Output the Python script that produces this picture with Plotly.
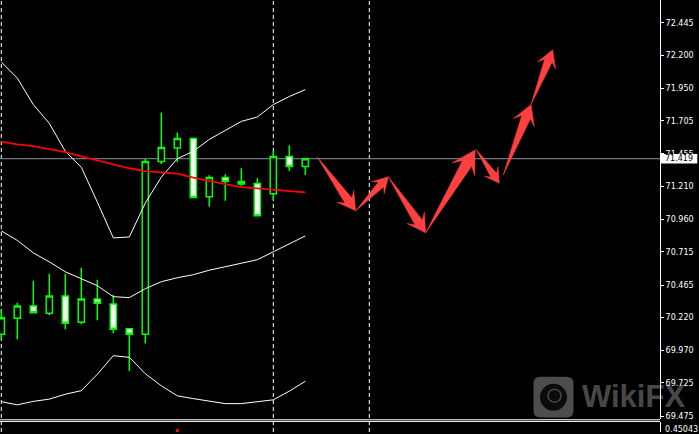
import math
import plotly.graph_objects as go

# ---------------- data ----------------
bars = list(range(20))
opens = [70.094, 70.214, 70.307, 70.252, 70.383, 70.184, 70.360, 70.322, 70.134, 70.094,
         71.398, 71.500, 71.571, 71.131, 71.277, 71.247, 71.232, 71.154, 71.435, 71.360]
highs = [70.280, 70.332, 70.498, 70.550, 70.550, 70.595, 70.505, 70.390, 70.134, 71.417,
         71.768, 71.618, 71.580, 71.295, 71.302, 71.347, 71.272, 71.477, 71.520, 71.420]
lows = [70.060, 70.056, 70.255, 70.237, 70.131, 70.169, 70.199, 70.101, 69.816, 70.024,
        71.380, 71.395, 71.127, 71.056, 71.101, 71.214, 70.984, 71.107, 71.327, 71.297]
closes = [70.217, 70.307, 70.255, 70.383, 70.177, 70.360, 70.327, 70.131, 70.094, 71.398,
          71.503, 71.571, 71.127, 71.277, 71.247, 71.229, 70.989, 71.435, 71.360, 71.419]

bb_upper = [72.150, 72.028, 71.828, 71.686, 71.475, 71.355, 71.092, 70.821, 70.828, 71.084,
            71.280, 71.419, 71.475, 71.565, 71.633, 71.701, 71.734, 71.828, 71.889, 71.941]
bb_middle = [70.874, 70.802, 70.708, 70.640, 70.565, 70.513, 70.460, 70.377, 70.370, 70.437,
             70.490, 70.520, 70.543, 70.577, 70.603, 70.625, 70.656, 70.716, 70.776, 70.836]
bb_lower = [69.584, 69.560, 69.586, 69.603, 69.640, 69.667, 69.791, 69.931, 69.919, 69.795,
            69.704, 69.628, 69.607, 69.588, 69.569, 69.569, 69.584, 69.598, 69.663, 69.738]
ma_red = [71.548, 71.528, 71.515, 71.494, 71.468, 71.437, 71.407, 71.377, 71.347, 71.325,
          71.317, 71.307, 71.276, 71.250, 71.227, 71.204, 71.193, 71.184, 71.174, 71.165]

# forecast arrows: (bar_from, price_from, bar_to, price_to)
arrows = [
    (19.75, 71.432, 22.15, 71.026),
    (22.15, 71.026, 24.19, 71.282),
    (24.19, 71.282, 26.525, 70.859),
    (26.525, 70.859, 29.61, 71.485),
    (29.67, 71.490, 31.125, 71.234),
    (31.375, 71.297, 33.11, 71.828),
    (33.11, 71.828, 34.46, 72.242),
]

separators = [0, 17, 23]
last_price = 71.419
sub_bar = [11]
sub_value = [0.15]
sub_label = "0.45043"

tick_vals = [72.445, 72.200, 71.950, 71.705, 71.455, 71.210, 70.960, 70.715,
             70.465, 70.220, 69.970, 69.725, 69.475]
tick_text = ["%.3f" % v for v in tick_vals]

# ---------------- layout geometry ----------------
W, H = 699, 434
PLOT_W = 660
MAIN_H = 421
x_range = [-0.081, 41.169]
y_range = [69.4525, 72.618]
sx = PLOT_W / (x_range[1] - x_range[0])
sy = MAIN_H / (y_range[1] - y_range[0])

GREEN = "#00ff00"
ARROW = "#ff4040"
FONT = "DejaVu Sans"

fig = go.Figure()

fig.add_trace(go.Candlestick(
    x=bars, open=opens, high=highs, low=lows, close=closes,
    increasing=dict(line=dict(color=GREEN, width=1.5), fillcolor="black"),
    decreasing=dict(line=dict(color=GREEN, width=1.5), fillcolor="white"),
    whiskerwidth=0, showlegend=False, hoverinfo="skip"))

for series in (bb_upper, bb_middle, bb_lower):
    fig.add_trace(go.Scatter(x=bars, y=series, mode="lines",
                             line=dict(color="white", width=1), showlegend=False,
                             hoverinfo="skip"))
fig.add_trace(go.Scatter(x=bars, y=ma_red, mode="lines",
                         line=dict(color="#ff0000", width=1.8), showlegend=False,
                         hoverinfo="skip"))


def arrow_polygon(x0, y0, x1, y1):
    ax, ay = x0 * sx, y0 * sy
    bx, by = x1 * sx, y1 * sy
    dx, dy = bx - ax, by - ay
    L = math.hypot(dx, dy)
    ux, uy = dx / L, dy / L
    nx, ny = -uy, ux
    head_len = 8 + 0.15 * L
    head_w = head_len * 1.15
    shaft_w = head_w * 0.42
    neck = head_len * 0.7
    pts = [
        (ax, ay),
        (bx - ux * neck + nx * shaft_w / 2, by - uy * neck + ny * shaft_w / 2),
        (bx - ux * head_len + nx * head_w / 2, by - uy * head_len + ny * head_w / 2),
        (bx, by),
        (bx - ux * head_len - nx * head_w / 2, by - uy * head_len - ny * head_w / 2),
        (bx - ux * neck - nx * shaft_w / 2, by - uy * neck - ny * shaft_w / 2),
        (ax, ay),
    ]
    return [p[0] / sx for p in pts], [p[1] / sy for p in pts]


for a in arrows:
    px, py = arrow_polygon(*a)
    fig.add_trace(go.Scatter(x=px, y=py, mode="lines", fill="toself",
                             fillcolor=ARROW, line=dict(color=ARROW, width=0.5),
                             showlegend=False, hoverinfo="skip"))

fig.add_trace(go.Scatter(x=sub_bar, y=sub_value, yaxis="y2", mode="markers",
                         marker=dict(symbol="square", size=3, color="#ff0000",
                                     line=dict(width=0)),
                         showlegend=False, hoverinfo="skip"))

shapes = []
for s in separators:
    shapes.append(dict(type="line", xref="x", yref="paper", x0=s, x1=s, y0=0, y1=1,
                       line=dict(color="white", width=1, dash="4px,3px"), layer="below"))
shapes.append(dict(type="line", xref="paper", yref="y", x0=0, x1=1, y0=last_price,
                   y1=last_price, line=dict(color="#8a94a0", width=1), layer="below"))
for py_px in (421.7, 423.4):
    yy = (H - py_px) / H
    shapes.append(dict(type="line", xref="paper", yref="paper", x0=0, x1=1, y0=yy, y1=yy,
                       line=dict(color="white", width=1)))


def px_to_paper(x, y):
    return x / PLOT_W, (H - y) / H


# watermark logo (rounded square)
lx0, ly0, lx1, ly1, r = 533.5, 378.5, 573.5, 419.5, 7
path = ""
seq = [
    ("M", lx0 + r, ly0), ("L", lx1 - r, ly0), ("Q", lx1, ly0, lx1, ly0 + r),
    ("L", lx1, ly1 - r), ("Q", lx1, ly1, lx1 - r, ly1), ("L", lx0 + r, ly1),
    ("Q", lx0, ly1, lx0, ly1 - r), ("L", lx0, ly0 + r), ("Q", lx0, ly0, lx0 + r, ly0),
]
for cmd in seq:
    if cmd[0] in ("M", "L"):
        a, b = px_to_paper(cmd[1], cmd[2])
        path += "%s%.5f,%.5f " % (cmd[0], a, b)
    else:
        a, b = px_to_paper(cmd[1], cmd[2])
        c, d = px_to_paper(cmd[3], cmd[4])
        path += "Q%.5f,%.5f %.5f,%.5f " % (a, b, c, d)
path += "Z"
shapes.append(dict(type="path", xref="paper", yref="paper", path=path,
                   fillcolor="rgba(255,255,255,0.30)", line=dict(width=0), layer="above"))
cx0, cy0 = px_to_paper(540, 385.5)
cx1, cy1 = px_to_paper(567, 412.5)
shapes.append(dict(type="circle", xref="paper", yref="paper", x0=cx0, x1=cx1, y0=cy1, y1=cy0,
                   fillcolor="rgba(0,0,0,0.85)", line=dict(width=0), layer="above"))
ex0, ey0 = px_to_paper(548, 391)
ex1, ey1 = px_to_paper(561, 404)
shapes.append(dict(type="circle", xref="paper", yref="paper", x0=ex0, x1=ex1, y0=ey1, y1=ey0,
                   fillcolor="rgba(0,0,0,0)", line=dict(color="rgba(255,255,255,0.25)", width=1.5),
                   layer="above"))

# current price label box
shapes.append(dict(type="rect", xref="paper", yref="y", x0=1 + 0.7 / PLOT_W,
                   x1=1 + 37.3 / PLOT_W, y0=last_price - 4.7 / sy, y1=last_price + 4.7 / sy,
                   fillcolor="white", line=dict(width=0), layer="above"))

annotations = [
    dict(x=1 + 19 / PLOT_W, y=last_price, xref="paper", yref="y", text="%.3f" % last_price,
         showarrow=False, font=dict(family=FONT, size=8, color="black"),
         xanchor="center", yanchor="middle"),
    dict(x=1, y=(H - 431) / H, xref="paper", yref="paper", text=sub_label, showarrow=False,
         xanchor="left", yanchor="middle", xshift=3,
         font=dict(family=FONT, size=8, color="white")),
    dict(x=580 / PLOT_W, y=(H - 398) / H, xref="paper", yref="paper", text="<b>WikiFX</b>",
         showarrow=False, xanchor="left", yanchor="middle",
         font=dict(family="Liberation Sans", size=31, color="rgba(255,255,255,0.30)")),
]

fig.update_layout(
    width=W, height=H,
    margin=dict(l=0, r=W - PLOT_W, t=0, b=0),
    paper_bgcolor="black", plot_bgcolor="black",
    showlegend=False,
    boxgap=0.45,
    xaxis=dict(range=x_range, visible=False, rangeslider=dict(visible=False),
               fixedrange=True),
    yaxis=dict(domain=[(H - MAIN_H) / H, 1], range=y_range, side="right",
               showgrid=False, zeroline=False, showline=True, linecolor="white",
               linewidth=1, ticks="outside", ticklen=3, tickcolor="white",
               tickvals=tick_vals, ticktext=tick_text,
               tickfont=dict(family=FONT, size=8, color="white"), fixedrange=True),
    yaxis2=dict(domain=[0, 10 / H], range=[0, 1], side="right", anchor="x",
                showgrid=False, zeroline=False, showline=True, linecolor="white",
                linewidth=1, showticklabels=False, ticks="", fixedrange=True),
    shapes=shapes,
    annotations=annotations,
)

fig.write_html("out.html", config={"displayModeBar": False, "staticPlot": True},
               post_script="document.body.style.margin='0';document.body.style.overflow='hidden';")
